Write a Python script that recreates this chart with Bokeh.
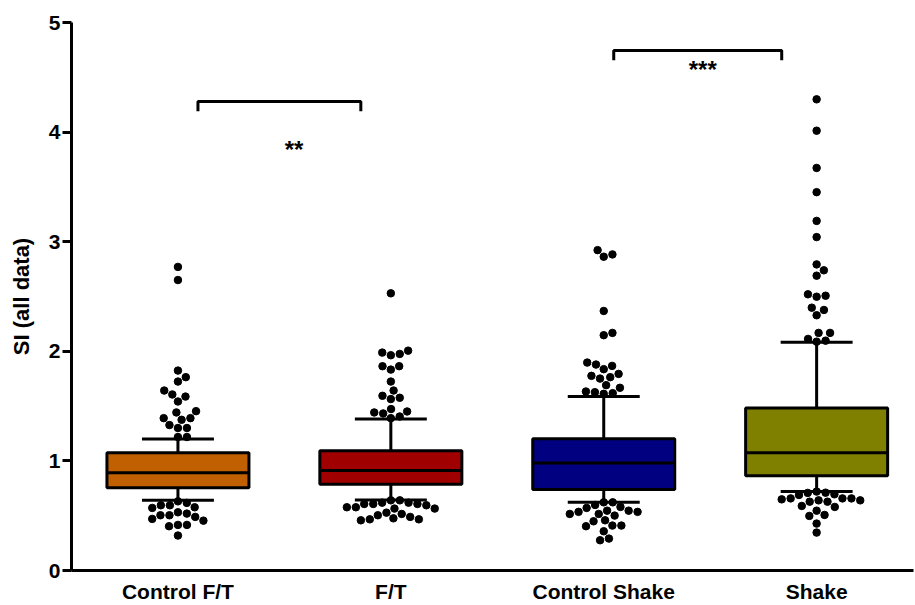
import math
from bokeh.plotting import figure
from bokeh.models import Range1d, FixedTicker
from bokeh.core.properties import value
from bokeh.embed import file_html
from bokeh.resources import INLINE

# ---------------- data ----------------
categories = ["Control F/T", "F/T", "Control Shake", "Shake"]
colors = ["#C06000", "#A00000", "#000080", "#808000"]

q1 = [0.756, 0.786, 0.738, 0.865]
median = [0.893, 0.913, 0.981, 1.075]
q3 = [1.075, 1.093, 1.202, 1.482]
whisk_lo = [0.640, 0.644, 0.622, 0.720]
whisk_hi = [1.200, 1.382, 1.587, 2.083]

out_ctrl_ft = [2.77, 2.65, 1.824, 1.764, 1.724, 1.642, 1.587, 1.606, 1.542,
               1.442, 1.454, 1.375, 1.39, 1.39, 1.327, 1.30, 1.30, 1.218, 1.218,
               0.631, 0.571, 0.595, 0.595, 0.617, 0.577, 0.489, 0.519, 0.504,
               0.504, 0.531, 0.455, 0.471, 0.416, 0.404, 0.416, 0.319]
out_ft = [2.529, 2.006, 1.976, 1.964, 1.988, 1.864, 1.833, 1.864, 1.724, 1.642,
          1.594, 1.564, 1.576, 1.473, 1.451, 1.433, 1.442, 1.39, 1.405,
          0.640, 0.619, 0.607, 0.607, 0.577, 0.565, 0.565, 0.577, 0.595, 0.607,
          0.619, 0.640, 0.516, 0.489, 0.467, 0.458, 0.467, 0.476, 0.504, 0.528]
out_ctrl_shake = [2.923, 2.863, 2.884, 2.368, 2.147, 2.168, 1.897, 1.879, 1.867,
                  1.837, 1.776, 1.794, 1.764, 1.751, 1.691, 1.667, 1.627, 1.612,
                  1.618, 1.633,
                  0.622, 0.598, 0.622, 0.580, 0.546, 0.535, 0.516, 0.501, 0.516,
                  0.535, 0.546, 0.571, 0.449, 0.458, 0.410, 0.404, 0.410, 0.358,
                  0.276, 0.291]
out_shake = [4.299, 4.013, 3.673, 3.452, 3.19, 3.042, 2.793, 2.739, 2.690,
             2.520, 2.498, 2.507, 2.377, 2.398, 2.329, 2.168, 2.168, 2.113,
             2.088, 2.097,
             0.710, 0.695, 0.689, 0.708, 0.72, 0.658, 0.658, 0.640, 0.628,
             0.589, 0.628, 0.640, 0.649, 0.658, 0.580, 0.546, 0.507, 0.498,
             0.428, 0.346]
outliers = [out_ctrl_ft, out_ft, out_ctrl_shake, out_shake]

# significance brackets
sig_x0 = [1.094, 3.047]
sig_x1 = [1.859, 3.836]
sig_top = [4.28, 4.745]
sig_leg = [4.19, 4.655]
sig_text = ["**", "***"]
sig_tx = [1.545, 3.465]
sig_ty = [3.84, 4.57]

yticks = [0, 1, 2, 3, 4, 5]

# ---------------- figure ----------------
W, H = 915, 605
BL, BR, BT, BB = 71, 2, 22, 34
x_lo, x_hi = 0.5, 4.455
p = figure(width=W, height=H, output_backend="svg", toolbar_location=None,
           x_range=Range1d(x_lo, x_hi), y_range=Range1d(0, 5),
           min_border_left=BL, min_border_right=BR, min_border_top=BT,
           min_border_bottom=BB)
p.outline_line_color = None
p.xgrid.visible = False
p.ygrid.visible = False
p.background_fill_color = "white"

FONT = "Liberation Sans"
xs = [i + 1 for i in range(len(categories))]

box_w = 0.667
cap_w = 0.338

# whiskers
p.segment(x0=xs, y0=q3, x1=xs, y1=whisk_hi, line_color="black", line_width=3)
p.segment(x0=xs, y0=q1, x1=xs, y1=whisk_lo, line_color="black", line_width=3)
p.segment(x0=[x - cap_w / 2 for x in xs], y0=whisk_hi,
          x1=[x + cap_w / 2 for x in xs], y1=whisk_hi, line_color="black", line_width=3)
p.segment(x0=[x - cap_w / 2 for x in xs], y0=whisk_lo,
          x1=[x + cap_w / 2 for x in xs], y1=whisk_lo, line_color="black", line_width=3)
# boxes
p.vbar(x=xs, width=box_w, bottom=q1, top=q3, fill_color=colors,
       line_color="black", line_width=3)
p.segment(x0=[x - box_w / 2 for x in xs], y0=median,
          x1=[x + box_w / 2 for x in xs], y1=median, line_color="black", line_width=3)

# beeswarm layout of outliers (computed in screen pixels)
frame_w = W - BL - BR
frame_h = H - BT - BB
px_x = frame_w / (x_hi - x_lo)
px_y = frame_h / 5.0
D = 9.0


def swarm(vals, center):
    placed = []
    offs = [0.0] * len(vals)
    order = sorted(range(len(vals)), key=lambda i: abs(vals[i] - center))
    for i in order:
        y = vals[i] * px_y
        nb = [(x, yy) for x, yy in placed if abs(yy - y) < D]
        cands = [0.0]
        for x, yy in nb:
            dx = math.sqrt(D * D - (yy - y) ** 2)
            cands += [x + dx, x - dx]
        cands.sort(key=abs)
        chosen = cands[-1]
        for c in cands:
            if all((c - x) ** 2 + (yy - y) ** 2 >= D * D - 1e-6 for x, yy in nb):
                chosen = c
                break
        placed.append((chosen, y))
        offs[i] = chosen / px_x
    return offs


for k, vals in enumerate(outliers):
    offs = swarm(vals, median[k])
    p.scatter(x=[xs[k] + o for o in offs], y=vals, size=7.5,
              fill_color="black", line_color="black")

# significance brackets
for i in range(len(sig_text)):
    p.line(x=[sig_x0[i], sig_x0[i], sig_x1[i], sig_x1[i]],
           y=[sig_leg[i], sig_top[i], sig_top[i], sig_leg[i]],
           line_color="black", line_width=3)
p.text(x=sig_tx, y=sig_ty, text=sig_text, text_font=value(FONT),
       text_font_style="bold", text_font_size="24px", text_align="center",
       text_baseline="middle", text_color="black")

# axes
p.yaxis.ticker = FixedTicker(ticks=yticks)
p.yaxis.minor_tick_line_color = None
p.yaxis.major_tick_out = 9
p.yaxis.major_tick_in = 0
p.yaxis.major_tick_line_width = 3
p.yaxis.axis_line_width = 3
p.yaxis.major_label_text_font = FONT
p.yaxis.major_label_text_font_style = "bold"
p.yaxis.major_label_text_font_size = "21px"
p.yaxis.major_label_text_color = "black"
p.yaxis.major_label_standoff = 2
p.yaxis.axis_label = "SI (all data)"
p.yaxis.axis_label_text_font = FONT
p.yaxis.axis_label_text_font_style = "bold"
p.yaxis.axis_label_text_font_size = "22px"
p.yaxis.axis_label_text_color = "black"
p.yaxis.axis_label_standoff = 12

p.xaxis.ticker = FixedTicker(ticks=xs)
p.xaxis.major_label_overrides = {x: c for x, c in zip(xs, categories)}
p.xaxis.minor_tick_line_color = None
p.xaxis.major_tick_out = 0
p.xaxis.major_tick_in = 0
p.xaxis.axis_line_width = 3
p.xaxis.major_label_text_font = FONT
p.xaxis.major_label_text_font_style = "bold"
p.xaxis.major_label_text_font_size = "21px"
p.xaxis.major_label_text_color = "black"
p.xaxis.major_label_standoff = 9

open("out.html", "w").write(file_html(p, INLINE))
